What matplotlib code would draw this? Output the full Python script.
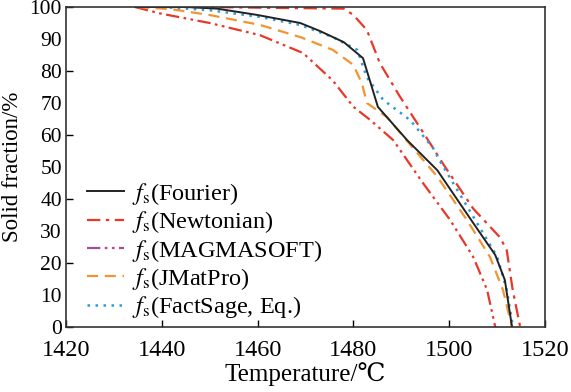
import matplotlib
matplotlib.use("Agg")
import matplotlib.pyplot as plt
from matplotlib.lines import Line2D

plt.rcParams['font.family'] = ['Liberation Serif', 'DejaVu Serif']
plt.rcParams['mathtext.fontset'] = 'stix'

# Fourier
T_four = [1434.5, 1445, 1451.5, 1460, 1468.9, 1473, 1478, 1482, 1485.1, 1491.2, 1497.5, 1505, 1509.6, 1511.6, 1513.1]
f_four = [100, 100, 99.5, 97.5, 95, 92.5, 89, 84, 68.8, 58.4, 49, 32.5, 22.5, 14.7, 0]
# Newtonian
T_newt = [1434.8, 1450, 1465, 1478, 1480, 1482.8, 1485.5, 1489.7, 1493.3, 1496.6, 1498.7, 1505, 1510.6, 1512, 1513.2, 1514.8]
f_newt = [100, 100, 99.7, 99.5, 97.5, 92.8, 82.5, 72, 63.7, 56, 51, 37, 28, 24, 12, 0]
# MAGMASOFT
T_magma = [1434.4, 1439.6, 1450, 1460.5, 1469.5, 1475.7, 1480, 1483.5, 1488.3, 1494.5, 1500.2, 1505, 1507.9, 1509.6]
f_magma = [100, 98, 95, 91.2, 85.6, 77, 68.8, 64.7, 58.4, 45, 33.4, 21.9, 11.6, 0]
# JMatPro
T_jmat = [1435, 1442, 1450, 1460.5, 1468.9, 1475.7, 1480, 1481.8, 1482.8, 1487, 1492.4, 1497.5, 1503.7, 1508.5, 1511.2, 1513.1]
f_jmat = [100, 99.3, 97.5, 94.4, 90.6, 86.6, 81.9, 76, 70, 65.6, 56, 47, 33.4, 21.9, 11.6, 0]
# FactSage, Eq.
T_fact = [1440, 1450, 1460.5, 1468.9, 1475.7, 1480.8, 1482.8, 1486.2, 1491.8, 1496.6, 1498, 1505.8, 1510, 1512, 1513.3]
f_fact = [100, 99, 96.9, 94.4, 90.6, 86.6, 78, 71, 64.7, 56, 52, 32.5, 22, 11.6, 0]

labels = ['Fourier', 'Newtonian', 'MAGMASOFT', 'JMatPro', 'FactSage, Eq.']

red = '#e8382a'
orange = '#f39433'
blue = '#2f9ad8'
purple = '#a24ca0'

fig = plt.figure(figsize=(5.71, 3.92), dpi=100)
ax = fig.add_axes([0.1156, 0.1658, 0.839, 0.8163])

ax.plot(T_newt, f_newt, color=red, lw=1.6, ls=(0, (6, 2.5, 1.5, 2.5)))
ax.plot(T_magma, f_magma, color=red, lw=1.6, ls=(0, (6, 2, 1.2, 2, 1.2, 2)))
ax.plot(T_jmat, f_jmat, color=orange, lw=1.6, ls=(0, (5, 3)))
ax.plot(T_fact, f_fact, color=blue, lw=1.8, ls=(0, (1, 2.2)))
ax.plot(T_four, f_four, color='#222222', lw=1.4)

ax.set_xlim(1420, 1520)
ax.set_ylim(0, 100)
ax.set_xticks([1420, 1440, 1460, 1480, 1500, 1520])
ax.set_yticks([0, 20, 40, 60, 80, 100])
ax.set_yticks([10, 30, 50, 70, 90], minor=True)
ax.tick_params(axis='x', which='major', direction='in', length=5, labelsize=17.5, width=1, pad=9)
ax.tick_params(axis='y', which='major', direction='in', length=5, labelsize=15.5, width=1, pad=3)
ax.tick_params(axis='y', which='minor', length=0, labelsize=15.5, pad=3)
ax.set_yticklabels(['0', '20', '40', '60', '80', '100'])
ax.set_yticklabels(['10', '30', '50', '70', '90'], minor=True)
for sp in ax.spines.values():
    sp.set_linewidth(1.2)
    sp.set_color('#333333')

ax.set_xlabel('Temperature/℃', fontsize=18, labelpad=1)
ax.set_ylabel('Solid fraction/%', fontsize=16.5, labelpad=5)

handles = [
    Line2D([], [], color='#222222', lw=1.4),
    Line2D([], [], color=red, lw=1.6, ls=(0, (6, 2.5, 1.5, 2.5))),
    Line2D([], [], color=purple, lw=1.6, ls=(0, (6, 2, 1.2, 2, 1.2, 2))),
    Line2D([], [], color=orange, lw=1.6, ls=(0, (5, 3))),
    Line2D([], [], color=blue, lw=1.8, ls=(0, (1, 2.2))),
]
ax.legend(handles, ['$f_\\mathrm{s}$(' + l + ')' for l in labels], loc='lower left',
          bbox_to_anchor=(0.004, -0.04), frameon=False, fontsize=17.5, handlelength=1.5,
          handletextpad=0.35, labelspacing=0.1, borderpad=0.3)

fig.savefig('out.png', dpi=100)
